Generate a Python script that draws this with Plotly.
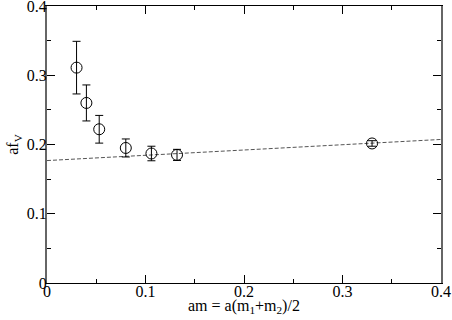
import plotly.graph_objects as go

# data
am = [0.030, 0.040, 0.053, 0.080, 0.106, 0.132, 0.330]
af_v = [0.311, 0.260, 0.222, 0.195, 0.187, 0.185, 0.2015]
af_v_err = [0.038, 0.026, 0.020, 0.013, 0.0105, 0.008, 0.004]

fit_x = [0.0, 0.4]
fit_y = [0.1768, 0.2073]

tick_vals = [0, 0.1, 0.2, 0.3, 0.4]
tick_text = ["0", "0.1", "0.2", "0.3", "0.4"]

FONT = "Liberation Serif"

fig = go.Figure()

fig.add_trace(go.Scatter(x=fit_x, y=fit_y, mode="lines",
                         line=dict(color="#555555", width=1, dash="4px,2px"),
                         showlegend=False))

fig.add_trace(go.Scatter(x=am, y=af_v, mode="markers",
                         marker=dict(symbol="circle-open", size=11,
                                     color="black", line=dict(width=1, color="black")),
                         error_y=dict(type="data", array=af_v_err, visible=True,
                                      color="black", thickness=1, width=4),
                         showlegend=False))

axis_common = dict(
    ticks="inside", ticklen=8, tickwidth=1, tickcolor="black",
    showgrid=False, zeroline=False, showline=True, mirror="allticks",
    tickvals=tick_vals, ticktext=tick_text, automargin=False,
    ticklabeloverflow="allow",
    minor=dict(ticks="inside", ticklen=4, tickcolor="black", dtick=0.05, showgrid=False),
    tickfont=dict(family=FONT, size=16, color="black"),
)

fig.update_layout(
    width=452, height=320,
    margin=dict(l=47, r=11, t=6, b=37),
    plot_bgcolor="white", paper_bgcolor="white",
    font=dict(family=FONT, color="black"),
    xaxis=dict(range=[0, 0.4], linecolor="black", linewidth=1,
               ticklabelstandoff=-6, **axis_common),
    yaxis=dict(range=[0, 0.4], linecolor="#666666", linewidth=2,
               ticklabelstandoff=-5,
               title=dict(text="af<sub>V</sub>", font=dict(family=FONT, size=16), standoff=4),
               **axis_common),
)

fig.add_annotation(text="am = a(m<sub>1</sub>+m<sub>2</sub>)/2",
                   xref="paper", yref="paper", x=0.5, y=0,
                   xanchor="center", yanchor="middle", yshift=-23,
                   showarrow=False, font=dict(family=FONT, size=16, color="black"))

# page body has a default margin, drop it so the figure sits at 0,0
fig.write_html("out.html", config={"displayModeBar": False},
               post_script="document.body.style.margin='0';")
